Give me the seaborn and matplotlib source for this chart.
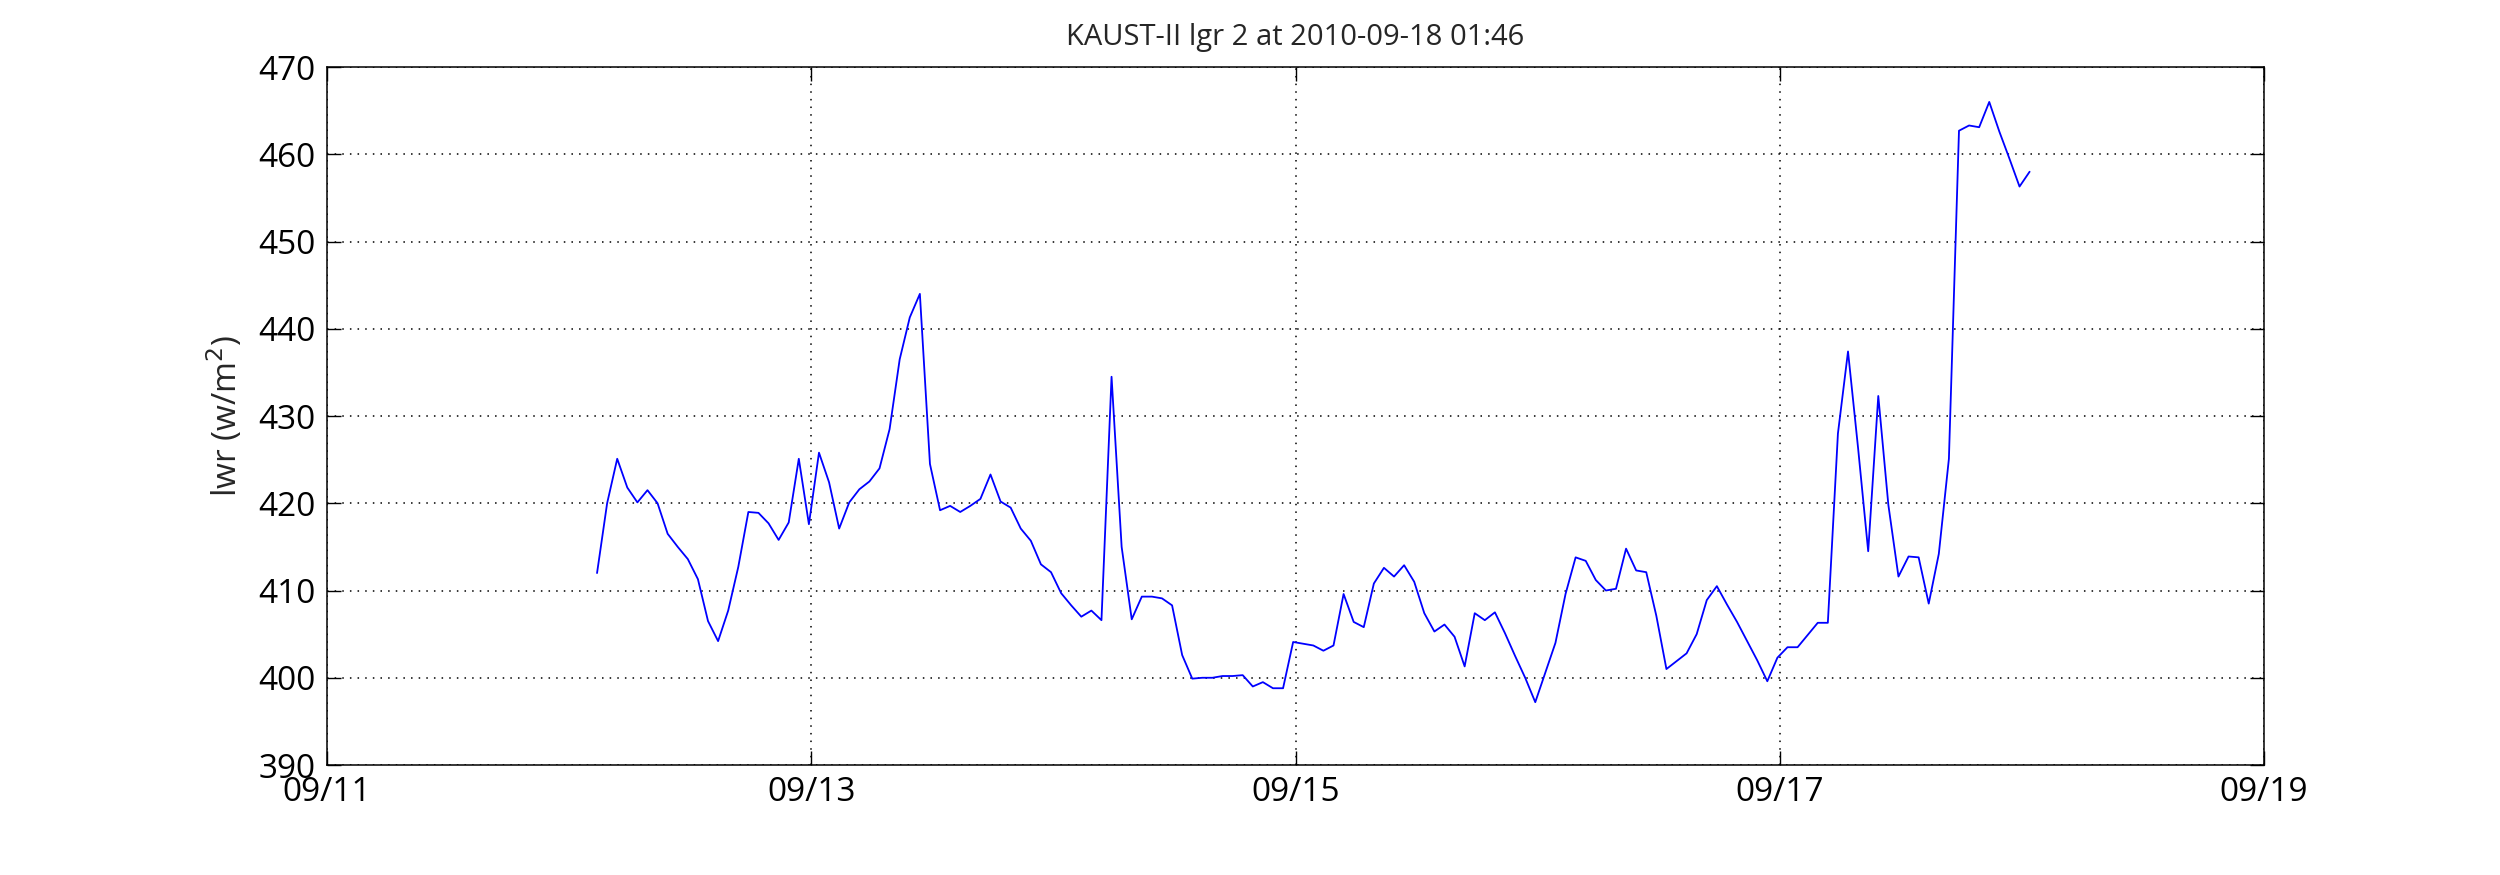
import numpy as np
import pandas as pd
import seaborn as sns
import matplotlib
matplotlib.use("Agg")
import matplotlib.pyplot as plt
import matplotlib.dates as mdates

# hourly samples, first one at 2010-09-12 02:46
start_time = "2010-09-12 02:46"
lwr = [412.0, 420.0, 425.1, 421.8, 420.1, 421.5, 420.0, 416.5, 415.0, 413.6,
       411.3, 406.5, 404.2, 407.7, 412.7, 419.0, 418.9, 417.7, 415.8, 417.8,
       425.1, 417.6, 425.8, 422.4, 417.1, 420.1, 421.6, 422.5, 424.0, 428.5,
       436.5, 441.3, 444.0, 424.5, 419.2, 419.7, 419.0, 419.7, 420.5, 423.3,
       420.2, 419.5, 417.1, 415.7, 413.0, 412.1, 409.7, 408.3, 407.0, 407.7,
       406.6, 434.5, 415.0, 406.7, 409.3, 409.3, 409.1, 408.3, 402.6, 399.9,
       400.0, 400.0, 400.2, 400.2, 400.3, 399.0, 399.5, 398.8, 398.8, 404.1,
       403.9, 403.7, 403.1, 403.7, 409.6, 406.4, 405.8, 410.8, 412.6, 411.6,
       412.9, 411.0, 407.4, 405.3, 406.1, 404.7, 401.3, 407.4, 406.6, 407.5,
       405.1, 402.5, 400.0, 397.2, 400.6, 404.0, 409.6, 413.8, 413.4, 411.2,
       410.0, 410.2, 414.8, 412.3, 412.1, 407.1, 401.0, 401.9, 402.8, 405.0,
       408.9, 410.5, 408.4, 406.4, 404.2, 402.0, 399.6, 402.3, 403.5, 403.5,
       404.9, 406.3, 406.3, 428.0, 437.4, 426.3, 414.5, 432.3, 419.8, 411.6,
       413.9, 413.8, 408.5, 414.2, 425.1, 462.7, 463.3, 463.1, 466.0, 462.6,
       459.5, 456.3, 458.0]

x_ticks = ["2010-09-11", "2010-09-13", "2010-09-15", "2010-09-17", "2010-09-19"]
y_ticks = [390, 400, 410, 420, 430, 440, 450, 460, 470]
title = "KAUST-II lgr 2 at 2010-09-18 01:46"

daten = pd.DataFrame({
    "zeit": pd.date_range(start_time, periods=len(lwr), freq="h"),
    "lwr": lwr,
})

sns.set_style("ticks")
plt.rcParams["font.family"] = ["Open Sans", "DejaVu Sans"]

fig = plt.figure(figsize=(25, 8.75), dpi=100)
ax = fig.add_axes([0.1308, 0.1257, 0.7748, 0.7977])

sns.lineplot(ax=ax, data=daten, x="zeit", y="lwr", color="#0000ff",
             linewidth=1.3)

ax.set_xlim(pd.Timestamp(x_ticks[0]), pd.Timestamp(x_ticks[-1]))
ax.set_ylim(y_ticks[0], y_ticks[-1])
ax.set_xticks(pd.to_datetime(x_ticks))
ax.xaxis.set_major_formatter(mdates.DateFormatter("%m/%d"))
ax.set_yticks(y_ticks)

ax.grid(True, linestyle=(0, (1, 4)), color="black", linewidth=1.1)
ax.tick_params(direction="in", length=10, width=1, labelsize=24, pad=8,
               colors="black")
ax.tick_params(top=True, right=True)
for s in ax.spines.values():
    s.set_linewidth(1.1)
    s.set_color("black")

ax.set_xlabel("")
ax.set_ylabel("lwr (w/m$^2$)", fontsize=24, labelpad=10)
ax.set_title(title, fontsize=21, pad=16)

fig.savefig("out.png", dpi=100)
